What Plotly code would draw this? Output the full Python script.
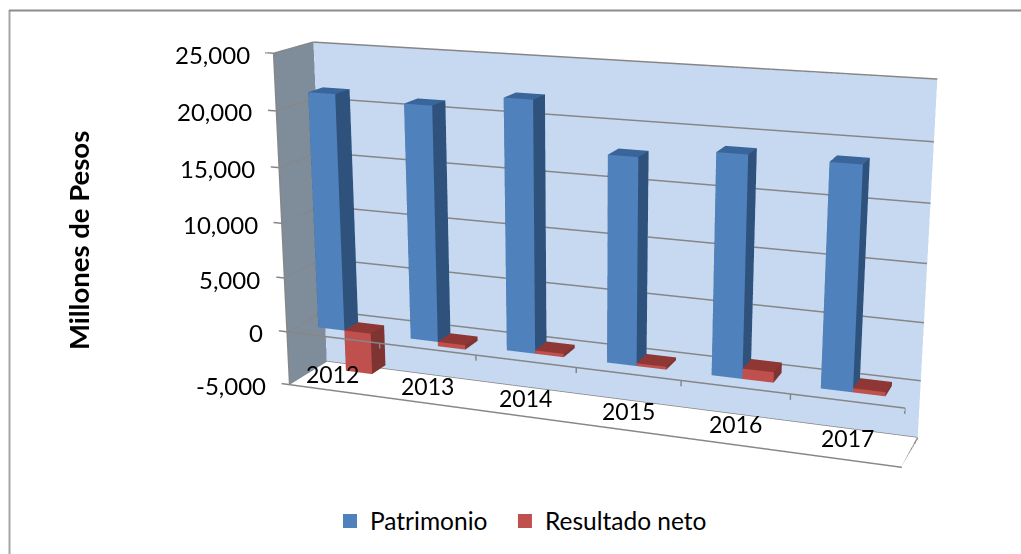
import plotly.graph_objects as go

# Data
years = ["2012", "2013", "2014", "2015", "2016", "2017"]
patrimonio = [21400, 21000, 22100, 17960, 18870, 18780]
resultado = [-3800, -400, 300, 250, 900, 350]
ticks = [-5000, 0, 5000, 10000, 15000, 20000, 25000]

# Window and the enlarged canvas that gives the long lens of the original chart
W, H = 1021, 554
FW, FH = 1170, 1456      # plotly's field of view is fixed, so the lens comes from canvas size
MT = -462                # canvas is slid up so its optical centre sits on the chart
XR, YR, ZR = [-0.2, 6.0], [-0.05, 1.0], [-5500.0, 25000.0]
EYE = dict(x=2.1872, y=-5.7418, z=1.6493)
CENTER = dict(x=0.0247, y=-0.0128, z=-0.0735)
UP = dict(x=0.0021, y=0.0008, z=1)
ASPECT = dict(x=2.454, y=0.3113, z=1.3089)


def PXf(x):
    return x / FW


def PYf(y):
    return 1 - (y - MT) / FH


C_GRID = "#868686"
LIT = dict(ambient=1, diffuse=0, specular=0, fresnel=0, roughness=1)


def cuboid(x0, x1, y0, y1, z0, z1, front, side, top):
    vx = [x0, x1, x1, x0, x0, x1, x1, x0]
    vy = [y0, y0, y1, y1, y0, y0, y1, y1]
    vz = [z0, z0, z0, z0, z1, z1, z1, z1]
    faces = [(0, 1, 5, front), (0, 5, 4, front), (1, 2, 6, side), (1, 6, 5, side),
             (4, 5, 6, top), (4, 6, 7, top), (3, 0, 4, side), (3, 4, 7, side),
             (2, 3, 7, front), (2, 7, 6, front), (0, 2, 1, top), (0, 3, 2, top)]
    return go.Mesh3d(x=vx, y=vy, z=vz, i=[f[0] for f in faces], j=[f[1] for f in faces],
                     k=[f[2] for f in faces], facecolor=[f[3] for f in faces], flatshading=True,
                     hoverinfo="skip", showlegend=False, lighting=LIT)


def quad(xs, ys, zs, color):
    return go.Mesh3d(x=xs, y=ys, z=zs, i=[0, 0], j=[1, 2], k=[2, 3], color=color, flatshading=True,
                     hoverinfo="skip", showlegend=False, lighting=LIT)


fig = go.Figure()
z0, z1 = ticks[0], ticks[-1]
n_cat = len(years)
fig.add_trace(quad([0, n_cat, n_cat, 0], [1, 1, 1, 1], [z0, z0, z1, z1], "#C6D9F1"))
fig.add_trace(quad([0, 0, 0, 0], [0, 1, 1, 0], [z0, z0, z1, z1], "#7F8D9B"))
fig.add_trace(quad([0, n_cat, n_cat, 0], [0, 0, 1, 1], [z0, z0, z0, z0], "#FFFFFF"))

by0, by1 = 0.31, 0.69
for n, (pv, rv) in enumerate(zip(patrimonio, resultado)):
    fig.add_trace(cuboid(n + .214, n + .5, by0, by1, 0, pv, "#4F81BD", "#2F527C", "#3A659A"))
    fig.add_trace(cuboid(n + .5, n + .786, by0, by1, min(rv, 0), max(rv, 0), "#C0504D", "#7E3431", "#8E3735"))

lx, ly, lz = [], [], []


def seg(*pts):
    for q in pts:
        lx.append(q[0])
        ly.append(q[1])
        lz.append(q[2])
    lx.append(None)
    ly.append(None)
    lz.append(None)


e = 0.004
for t in ticks:
    seg((-0.09, 0, t), (0, 0, t), (e, 1 - e, t), (n_cat, 1 - e, t))
seg((0, 0, z0), (0, 0, z1))
seg((0, 0, z1), (0, 1 - e, z1))
seg((0, 0, z0), (n_cat, 0, z0), (n_cat, 1 - e, z0))
seg((0, 0, 0), (n_cat, 0, 0))
for n in range(1, n_cat + 1):
    seg((n, 0, 0), (n, 0, -500))
fig.add_trace(go.Scatter3d(x=lx, y=ly, z=lz, mode="lines", line=dict(color=C_GRID, width=3),
                           hoverinfo="skip", showlegend=False))
fig.add_trace(go.Scatter3d(x=[None], y=[None], z=[None], mode="markers", name="Patrimonio\u00a0\u00a0",
                           marker=dict(symbol="square", size=14, color="#4F81BD")))
fig.add_trace(go.Scatter3d(x=[None], y=[None], z=[None], mode="markers", name="Resultado neto",
                           marker=dict(symbol="square", size=14, color="#C0504D")))

FONT = "Lato"
ann = [dict(x=0, y=0, z=t, text=f"{t:,}", showarrow=False, xanchor="right", xshift=-22, yshift=-1,
            font=dict(size=24, family=FONT, color="#000")) for t in ticks]
ann += [dict(x=n + .5, y=0, z=0, text=y, showarrow=False, yshift=-37,
             font=dict(size=23, family=FONT, color="#000")) for n, y in enumerate(years)]
ax = dict(visible=False, showspikes=False)
fig.update_layout(
    width=FW, height=FH, margin=dict(l=0, r=0, t=0, b=0), paper_bgcolor="white",
    scene=dict(domain=dict(x=[0, 1], y=[0, 1]), aspectmode="manual", aspectratio=ASPECT,
               xaxis=dict(range=XR, **ax), yaxis=dict(range=YR, **ax), zaxis=dict(range=ZR, **ax),
               camera=dict(eye=EYE, center=CENTER, up=UP, projection=dict(type="perspective")),
               annotations=ann),
    legend=dict(orientation="h", x=PXf(330), xanchor="left", y=PYf(521), yanchor="middle",
                font=dict(size=24.5, family=FONT, color="#000")),
    shapes=[dict(type="line", xref="paper", yref="paper", x0=PXf(9.5), x1=PXf(9.5), y0=PYf(554), y1=PYf(10),
                 line=dict(color="#A6A6A6", width=2)),
            dict(type="line", xref="paper", yref="paper", x0=PXf(9), x1=PXf(1021), y0=PYf(10.5), y1=PYf(10.5),
                 line=dict(color="#8C8C8C", width=2))],
    annotations=[dict(xref="paper", yref="paper", x=PXf(78), y=PYf(241), text="<b>Millones de Pesos</b>",
                      textangle=-90, showarrow=False, xanchor="center", yanchor="middle",
                      font=dict(size=27.5, family=FONT, color="#000"))])
fig.write_html("out.html", config=dict(displayModeBar=False),
               post_script="document.body.style.margin='0';document.documentElement.style.overflow='hidden';"
                           "document.body.style.overflow='hidden';"
                           "document.getElementById('{plot_id}').style.marginTop='%dpx';" % MT)
